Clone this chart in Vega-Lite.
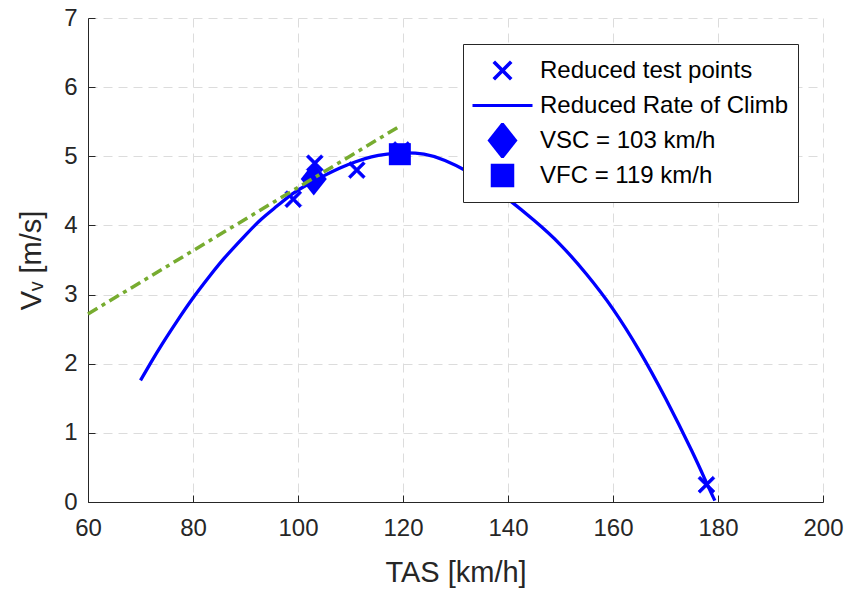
{
  "$schema": "https://vega.github.io/schema/vega-lite/v6.json",
  "width": 735,
  "height": 484,
  "autosize": "none",
  "padding": {"left": 88, "top": 18, "right": 22, "bottom": 89},
  "background": "white",
  "config": {
    "view": {"stroke": null},
    "font": "Liberation Sans",
    "axis": {
      "domainColor": "#262626",
      "domainWidth": 1,
      "tickColor": "#262626",
      "tickSize": -7,
      "tickWidth": 1,
      "labelColor": "#262626",
      "labelFont": "Liberation Sans",
      "labelFontSize": 24,
      "titleColor": "#262626",
      "titleFont": "Liberation Sans",
      "titleFontSize": 29,
      "titleFontWeight": "normal",
      "grid": true,
      "gridColor": "#dcdcdc",
      "gridDash": [9, 6],
      "gridWidth": 1
    }
  },
  "datasets": {
    "curve": [
      {"tas": 70, "vv": 1.76},
      {"tas": 72, "vv": 2.02},
      {"tas": 74, "vv": 2.27},
      {"tas": 77, "vv": 2.62},
      {"tas": 80, "vv": 2.95},
      {"tas": 83, "vv": 3.25},
      {"tas": 86, "vv": 3.53},
      {"tas": 90, "vv": 3.86},
      {"tas": 93, "vv": 4.09},
      {"tas": 96, "vv": 4.28},
      {"tas": 99, "vv": 4.46},
      {"tas": 102, "vv": 4.6},
      {"tas": 105, "vv": 4.72},
      {"tas": 108, "vv": 4.83},
      {"tas": 111, "vv": 4.92},
      {"tas": 114, "vv": 4.99},
      {"tas": 117, "vv": 5.03},
      {"tas": 120, "vv": 5.05},
      {"tas": 124, "vv": 5.03},
      {"tas": 128, "vv": 4.94},
      {"tas": 132, "vv": 4.79},
      {"tas": 136, "vv": 4.6},
      {"tas": 140, "vv": 4.38},
      {"tas": 145, "vv": 4.07},
      {"tas": 150, "vv": 3.72},
      {"tas": 155, "vv": 3.29},
      {"tas": 160, "vv": 2.79},
      {"tas": 165, "vv": 2.19},
      {"tas": 170, "vv": 1.5},
      {"tas": 175, "vv": 0.74},
      {"tas": 177.8, "vv": 0.28},
      {"tas": 179.4, "vv": 0.02}
    ],
    "tests": [
      {"tas": 99.1, "vv": 4.38, "series": "Reduced test points"},
      {"tas": 103.2, "vv": 4.9, "series": "Reduced test points"},
      {"tas": 111.2, "vv": 4.8, "series": "Reduced test points"},
      {"tas": 119.7, "vv": 5.09, "series": "Reduced test points"},
      {"tas": 177.8, "vv": 0.25, "series": "Reduced test points"}
    ],
    "vsc": [
      {"tas": 103, "vv": 4.67, "series": "VSC = 103 km/h"}
    ],
    "vfc": [
      {"tas": 119.4, "vv": 5.03, "series": "VFC = 119 km/h"}
    ],
    "tangent": [
      {"tas": 60, "vv": 2.72},
      {"tas": 119.7, "vv": 5.45}
    ]
  },
  "encoding": {
    "x": {
      "field": "tas",
      "type": "quantitative",
      "scale": {"domain": [60, 200], "nice": false, "zero": false},
      "axis": {
        "values": [60, 80, 100, 120, 140, 160, 180, 200],
        "title": "TAS [km/h]",
        "labelPadding": 21,
        "titlePadding": 18,
        "labelFlush": false
      }
    },
    "y": {
      "field": "vv",
      "type": "quantitative",
      "scale": {"domain": [0, 7], "nice": false},
      "axis": {
        "values": [0, 1, 2, 3, 4, 5, 6, 7],
        "title": "Vᵥ [m/s]",
        "labelPadding": 18,
        "titlePadding": 17
      }
    }
  },
  "layer": [
    {
      "data": {"name": "curve"},
      "mark": {"type": "line", "color": "#0000ff", "strokeWidth": 3.3, "interpolate": "natural"},
      "encoding": {}
    },
    {
      "data": {"name": "tests"},
      "mark": {"type": "point", "filled": true, "color": "#0000ff", "stroke": "#0000ff", "strokeWidth": 0.6, "size": 2601, "opacity": 1},
      "encoding": {
        "shape": {
          "field": "series",
          "type": "nominal",
          "scale": {
            "domain": ["Reduced test points", "Reduced Rate of Climb", "VSC = 103 km/h", "VFC = 119 km/h"],
            "range": [
              "M0,-0.085L0.248,-0.333L0.333,-0.248L0.085,0L0.333,0.248L0.248,0.333L0,0.085L-0.248,0.333L-0.333,0.248L-0.085,0L-0.333,-0.248L-0.248,-0.333Z",
              "M-1,-0.05L1,-0.05L1,0.05L-1,0.05Z",
              "M0,-0.633L0.5,0L0,0.633L-0.5,0Z",
              "M-0.392,-0.392L0.392,-0.392L0.392,0.392L-0.392,0.392Z"
            ]
          },
          "legend": {
            "title": null,
            "orient": "none",
            "legendX": 375,
            "legendY": 26,
            "strokeColor": "#262626",
            "fillColor": "white",
            "padding": 9,
            "rowPadding": 0,
            "clipHeight": 35,
            "symbolOffset": 0,
            "labelOffset": 7,
            "symbolSize": 3600,
            "symbolFillColor": "#0000ff",
            "symbolStrokeColor": "#0000ff",
            "symbolStrokeWidth": 0.5,
            "symbolOpacity": 1,
            "labelFontSize": 24,
            "labelFont": "Liberation Sans",
            "labelColor": "#000000",
            "labelLimit": 500
          }
        }
      }
    },
    {
      "data": {"name": "vsc"},
      "mark": {"type": "point", "filled": true, "color": "#0000ff", "size": 2718, "opacity": 1},
      "encoding": {
        "shape": {"field": "series", "type": "nominal"}
      }
    },
    {
      "data": {"name": "vfc"},
      "mark": {"type": "point", "filled": true, "color": "#0000ff", "size": 3150, "opacity": 1},
      "encoding": {
        "shape": {"field": "series", "type": "nominal"}
      }
    },
    {
      "data": {"name": "tangent"},
      "mark": {"type": "line", "color": "#77ac30", "strokeWidth": 3.5, "strokeDash": [11, 5, 4, 5]},
      "encoding": {}
    }
  ]
}
